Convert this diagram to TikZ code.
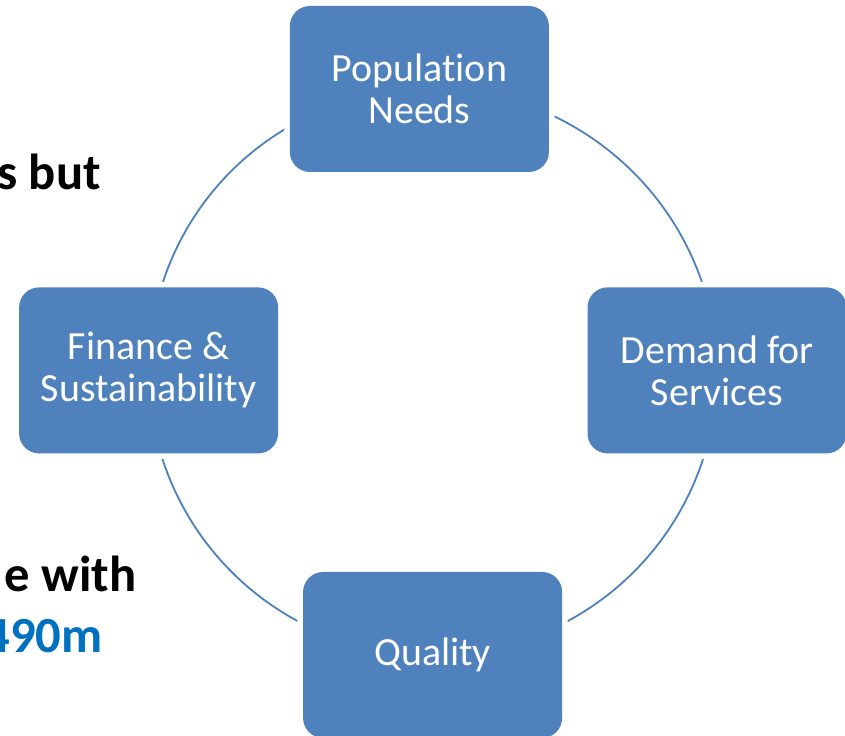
\documentclass[tikz,border=0pt]{standalone}
\usepackage{fontspec}
\setmainfont{Carlito}[Ligatures=NoCommon]
\usepackage{xcolor}
\usepackage{tikz}
\usetikzlibrary{backgrounds}

\definecolor{boxblue}{HTML}{4F81BD}
\definecolor{figblue}{HTML}{0070C0}

\begin{document}
\begin{tikzpicture}[
    stage/.style={fill=boxblue, preaction={draw=white, line width=2.8mm},
      rounded corners=5mm, minimum width=6.475cm, minimum height=4.15cm,
      inner sep=0pt, align=center, text=white,
      font=\fontsize{28.4}{29.9}\selectfont},
    link/.style={draw=boxblue, line width=1.3pt},
    slide/.style={inner sep=0pt, anchor=base east,
      font=\fontsize{36}{43}\selectfont\bfseries}
  ]
    \useasboundingbox (-10.825,-9.1) rectangle (10.3,9.3);
    \clip (-10.825,-9.1) rectangle (10.3,9.3);

    % slide text running in from the left
    \node[slide] (t1) at (-8.3,4.55) {s but};
    \node[slide] (t2) at (-7.4,-5.5) {e with};
    \node[slide, text=figblue] (t3) at (-8.25,-7.025) {490m};

    % the four stages of the cycle
    \node[stage] (pop) at (-0.34,7.075) {Population\\Needs};
    \node[stage] (fin) at (-7.11,0.04) {Finance \&\\Sustainability};
    \node[stage] (qual) at (-0.01,-7.075) {Quality};
    \node[stage] (dem) at (7.1,0.04) {Demand for\\Services};

    \begin{scope}[on background layer]
      \draw[link] (pop.center) to[bend right=43.5] (fin.center);
      \draw[link] (fin.center) to[bend right=45] (qual.center);
      \draw[link] (qual.center) to[bend right=45] (dem.center);
      \draw[link] (dem.center) to[bend right=46] (pop.center);
    \end{scope}
\end{tikzpicture}
\end{document}
